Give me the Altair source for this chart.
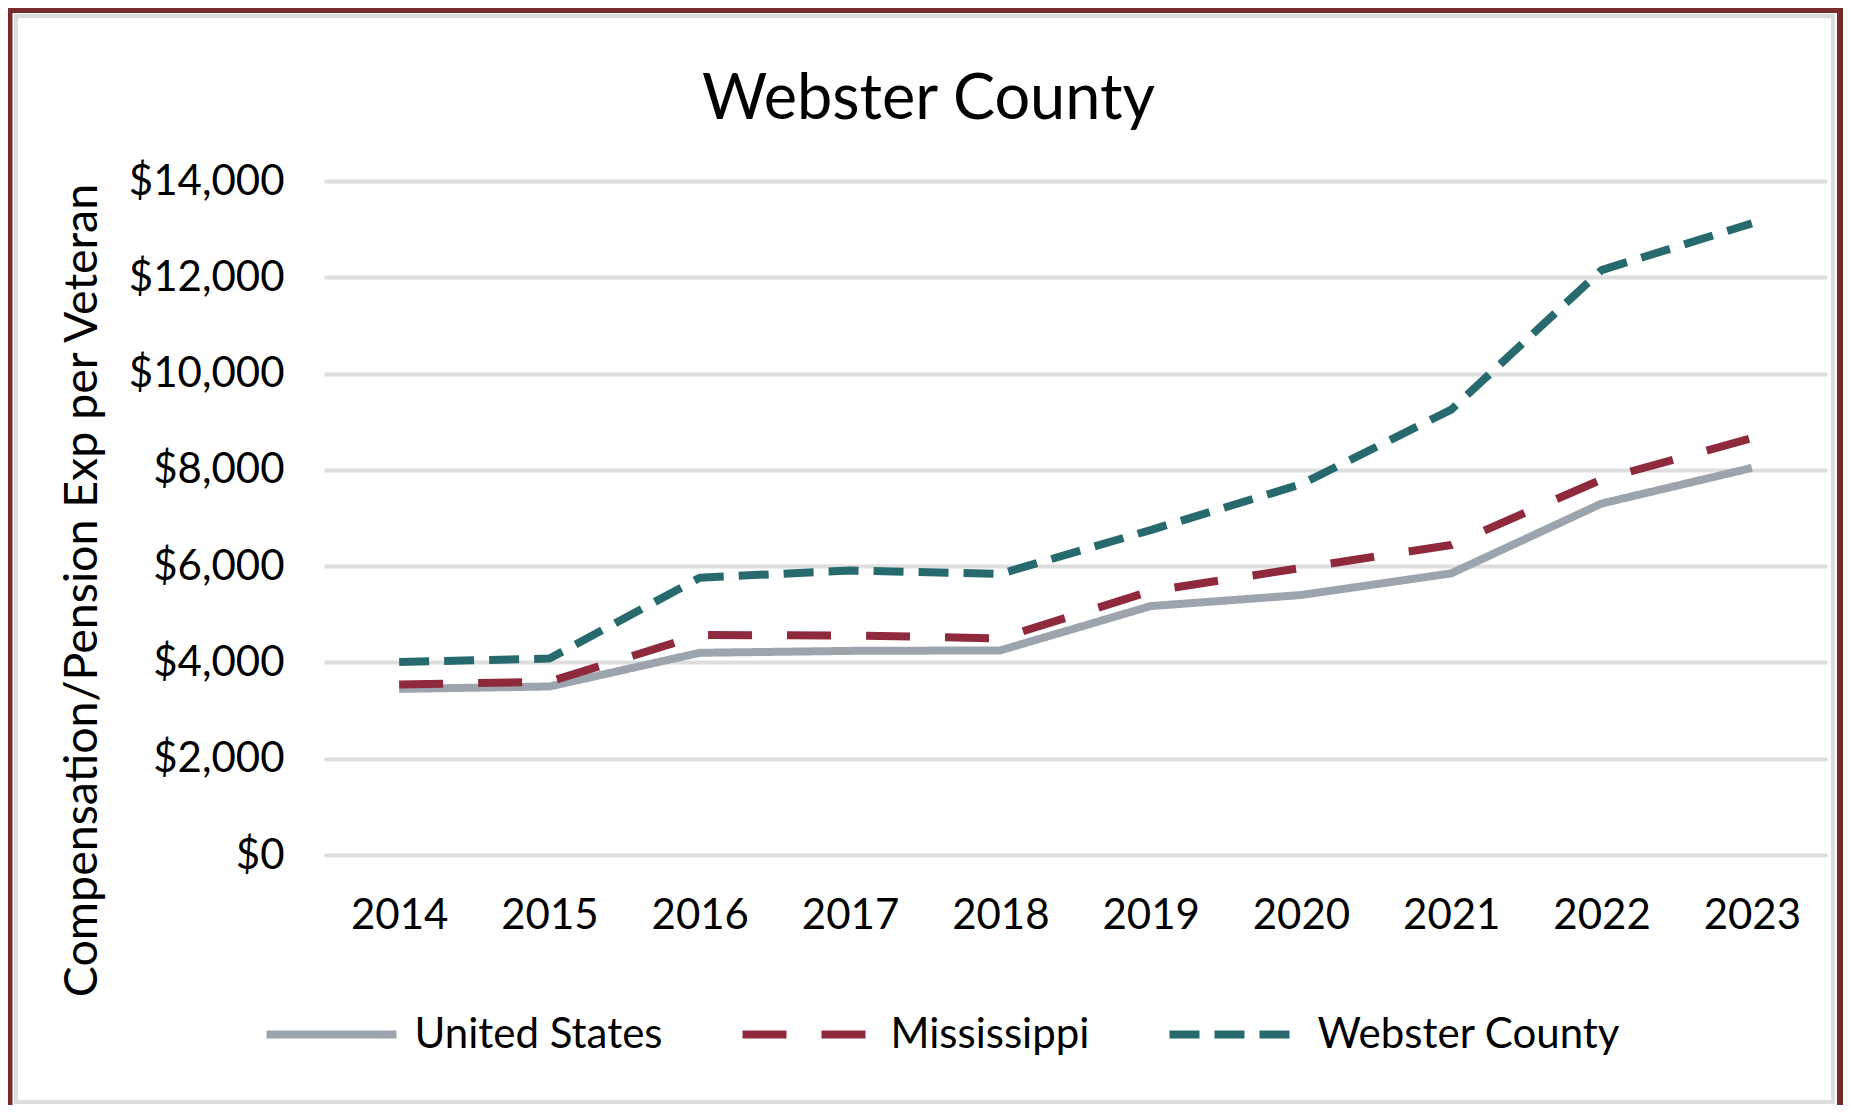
import altair as alt
import pandas as pd

# ---- data ----
years = ["2014", "2015", "2016", "2017", "2018", "2019", "2020", "2021", "2022", "2023"]
series_names = ["United States", "Mississippi", "Webster County"]
united_states = [3450, 3500, 4200, 4240, 4250, 5170, 5400, 5850, 7300, 8040]
mississippi = [3540, 3600, 4570, 4560, 4500, 5480, 5960, 6440, 7800, 8660]
webster_county = [4010, 4080, 5760, 5910, 5840, 6750, 7700, 9250, 12150, 13120]
y_ticks = [0, 2000, 4000, 6000, 8000, 10000, 12000, 14000]

colors = ["#9ca4ad", "#8f2a3c", "#276a6e"]
dashes = [[1, 0], [44, 35], [30, 15]]

rows = []
for name, vals in zip(series_names, [united_states, mississippi, webster_county]):
    for yr, v in zip(years, vals):
        rows.append({"Year": yr, "Series": name, "Value": v})
df = pd.DataFrame(rows)

FONT = "Lato"

legend = alt.Legend(
    title=None, orient="none", legendX=-61.5, legendY=784.5, direction="horizontal",
    symbolType="stroke", symbolSize=16900, symbolStrokeWidth=8,
    labelFont=FONT, labelFontSize=42, labelColor="black", labelOffset=14,
    labelLimit=600, columnPadding=64, padding=0,
)

base = alt.Chart(df).mark_line(strokeWidth=8, strokeJoin="round").encode(
    x=alt.X("Year:O", sort=years, scale=alt.Scale(padding=0.5),
            axis=alt.Axis(title=None, labelAngle=0, domain=False, ticks=False, grid=False,
                          labelFont=FONT, labelFontSize=42, labelColor="black", labelPadding=40)),
    y=alt.Y("Value:Q", scale=alt.Scale(domain=[0, 14000], nice=False),
            axis=alt.Axis(title="Compensation/Pension Exp per Veteran", values=y_ticks,
                          format="$,.0f", domain=False, ticks=False, grid=True,
                          gridColor="#dedede", gridWidth=4,
                          labelFont=FONT, labelFontSize=42, labelColor="black", labelPadding=40,
                          labelLimit=400,
                          titleFont=FONT, titleFontSize=46.5, titleFontWeight="normal",
                          titleColor="black", titleAngle=270, titleX=-242, titleY=409,
                          titleAlign="center", titleBaseline="middle", titleLimit=2000)),
    color=alt.Color("Series:N", scale=alt.Scale(domain=series_names, range=colors), legend=legend),
    strokeDash=alt.StrokeDash("Series:N", scale=alt.Scale(domain=series_names, range=dashes),
                              legend=legend),
)

line_layers = [base.transform_filter(alt.datum.Series == n) for n in series_names]

frame_df = pd.DataFrame({"k": [0]})
outer = alt.Chart(frame_df).mark_rect(filled=False, stroke="#772b2b", strokeWidth=6).encode(
    x=alt.value(-314.5), x2=alt.value(1516), y=alt.value(-171), y2=alt.value(940)
)
inner = alt.Chart(frame_df).mark_rect(filled=False, stroke="#dcdcdc", strokeWidth=4).encode(
    x=alt.value(-308), x2=alt.value(1509), y=alt.value(-165), y2=alt.value(921)
)

chart = alt.layer(outer, inner, *line_layers).properties(
    width=1503, height=674,
    padding={"left": 316, "top": 173, "right": 16, "bottom": 250},
    autosize=alt.AutoSizeParams(type="none"),
    background="white",
    title=alt.TitleParams(
        text="Webster County", font=FONT, fontSize=63, fontWeight="normal", color="black",
        anchor="middle", frame="group", dx=-147, offset=-125,
    ),
).configure_view(stroke=None)

chart.save("out.html", embed_options={"renderer": "svg", "actions": False})
